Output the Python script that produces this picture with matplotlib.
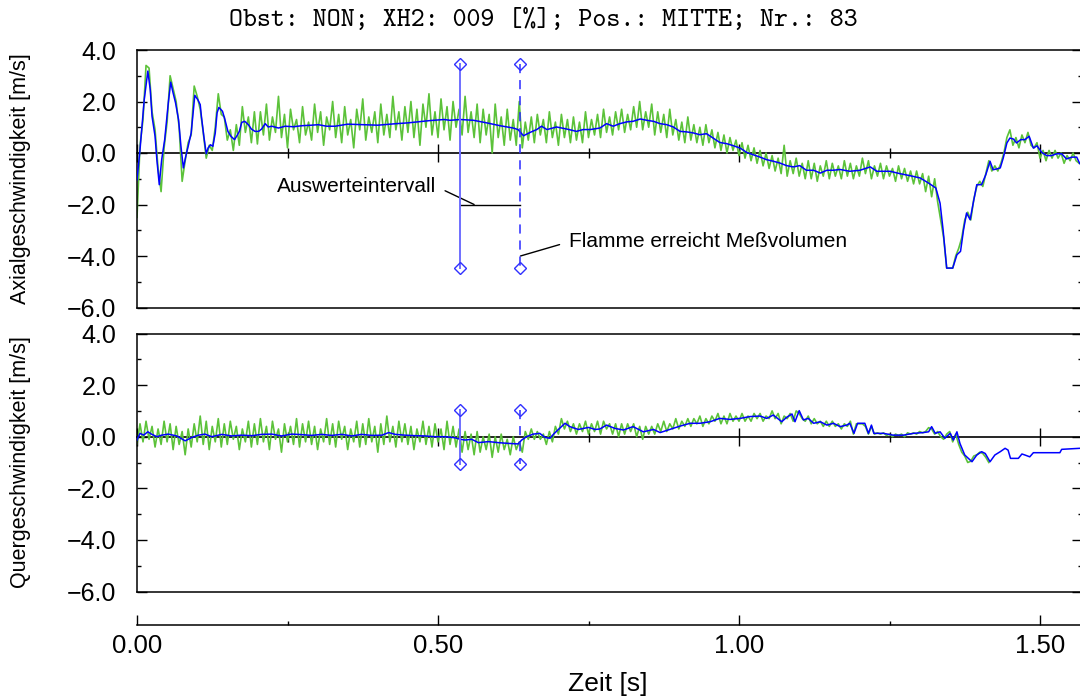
import numpy as np
import matplotlib
matplotlib.use("Agg")
import matplotlib.pyplot as plt
from matplotlib.ticker import MultipleLocator, FuncFormatter

plt.rcParams['font.family'] = ['Liberation Sans', 'DejaVu Sans']

# --- data ------------------------------------------------------------------
title = "Obst: NON; XH2: 009 [%]; Pos.: MITTE; Nr.: 83"

# smoothed axial velocity (blue)
axial_t = [0.000, 0.005, 0.012, 0.018, 0.022, 0.025, 0.030, 0.033, 0.037, 0.041,
           0.046, 0.052, 0.056, 0.060, 0.064, 0.069, 0.073, 0.077, 0.081, 0.085,
           0.090, 0.094, 0.096, 0.101, 0.105, 0.107, 0.111, 0.115, 0.118, 0.122,
           0.126, 0.130, 0.133, 0.136, 0.142, 0.146, 0.151, 0.156, 0.162, 0.166,
           0.170, 0.174, 0.179, 0.185, 0.190, 0.196, 0.202, 0.207, 0.213, 0.218,
           0.224, 0.235, 0.246, 0.260, 0.274, 0.290, 0.301, 0.315, 0.329, 0.350,
           0.376, 0.400, 0.431, 0.450, 0.470, 0.487, 0.510, 0.520, 0.537, 0.559,
           0.581, 0.603, 0.625, 0.633, 0.642, 0.653, 0.664, 0.672, 0.681, 0.697,
           0.714, 0.730, 0.741, 0.753, 0.769, 0.780, 0.791, 0.802, 0.814, 0.824,
           0.836, 0.847, 0.858, 0.869, 0.880, 0.891, 0.902, 0.913, 0.924, 0.935,
           0.946, 0.957, 0.968, 0.980, 0.991, 1.002, 1.013, 1.024, 1.035, 1.046,
           1.057, 1.068, 1.079, 1.090, 1.101, 1.112, 1.124, 1.135, 1.146, 1.157,
           1.168, 1.184, 1.201, 1.218, 1.229, 1.251, 1.267, 1.284, 1.301, 1.315,
           1.327, 1.334, 1.339, 1.345, 1.355, 1.362, 1.368, 1.373, 1.378, 1.384,
           1.389, 1.395, 1.403, 1.410, 1.417, 1.422, 1.428, 1.434, 1.439, 1.445,
           1.450, 1.456, 1.461, 1.468, 1.475, 1.482, 1.489, 1.495, 1.503, 1.511,
           1.519, 1.528, 1.536, 1.544, 1.553, 1.561, 1.566]
axial_v = [-1.04, 0.13, 2.07, 3.18, 2.46, 1.42, 0.65, -0.26, -1.23, -0.26,
           0.52, 1.95, 2.75, 2.33, 1.95, 1.30, 0.26, -0.58, -0.13, 0.26,
           0.78, 1.75, 2.24, 2.07, 1.88, 1.42, 0.65, -0.03, 0.19, 0.32,
           0.26, 0.78, 1.56, 1.77, 1.62, 1.30, 0.84, 0.65, 0.52, 0.67,
           0.84, 1.19, 1.23, 1.10, 0.93, 0.84, 0.84, 0.93, 1.14, 1.01,
           1.04, 0.97, 1.04, 1.02, 1.06, 1.08, 1.10, 1.04, 1.04, 1.12,
           1.10, 1.08, 1.14, 1.17, 1.22, 1.26, 1.30, 1.27, 1.30, 1.27,
           1.17, 1.06, 0.97, 0.91, 0.67, 0.80, 0.91, 1.04, 0.91, 1.01,
           0.93, 0.84, 0.91, 0.91, 0.97, 1.14, 1.04, 1.14, 1.21, 1.23,
           1.32, 1.27, 1.23, 1.14, 1.10, 1.01, 0.84, 0.82, 0.78, 0.71,
           0.75, 0.58, 0.41, 0.36, 0.28, 0.19, 0.02, -0.07, -0.16, -0.26,
           -0.32, -0.39, -0.49, -0.54, -0.49, -0.67, -0.67, -0.78, -0.67, -0.67,
           -0.64, -0.71, -0.67, -0.54, -0.71, -0.71, -0.80, -0.88, -0.97, -1.17,
           -1.36, -1.95, -2.98, -4.47, -4.47, -3.95, -3.82, -2.98, -2.33, -2.59,
           -1.95, -1.23, -1.23, -0.84, -0.32, -0.65, -0.62, -0.58, -0.19, 0.39,
           0.58, 0.54, 0.39, 0.52, 0.52, 0.65, 0.19, 0.28, 0.02, -0.10,
           -0.10, -0.03, -0.03, -0.23, -0.16, -0.16, -0.41]

# raw axial velocity (green), one sample every 5 ms from t = 0
axial_raw_dt = 0.005
axial_raw = [-2.5, 0.3, 1.3, 3.4, 3.3, 1.6, 0.9, -0.6, -1.5, 0.2,
             1.2, 3.0, 2.5, 2.0, 1.0, -1.1, -0.3, 0.4, 0.7, 2.6,
             2.2, 1.7, 0.8, -0.2, 0.3, 0.1, 1.0, 2.3, 1.5, 1.4,
             0.5, 0.9, 0.1, 1.1, 0.3, 1.8, 0.8, 1.4, 0.4, 1.6,
             0.35, 1.6, 0.7, 1.9, 0.5, 1.4, 0.8, 2.2, 0.6, 1.5,
             0.2, 1.7, 0.9, 1.3, 0.4, 1.8, 0.7, 1.2, 0.5, 1.9,
             0.8, 1.6, 0.3, 1.4, 0.9, 2.0, 0.6, 1.5, 0.4, 1.8,
             0.7, 1.3, 0.2, 1.7, 0.9, 2.1, 0.5, 1.4, 0.8, 1.6,
             0.4, 1.9, 0.7, 1.5, 0.6, 2.2, 0.9, 1.6, 0.5, 1.8,
             0.8, 2.0, 0.6, 1.7, 0.3, 1.9, 1.0, 2.3, 0.7, 1.6,
             0.6, 2.1, 0.9, 1.8, 0.5, 2.0, 1.0, 1.7, 0.7, 2.2,
             0.8, 1.6, 0.6, 1.9, 0.4, 1.7, 0.7, 1.5, 0.0, 1.9,
             0.6, 1.4, 0.3, 1.7, 0.5, 1.3, 0.3, 2.0, 0.2, 1.2,
             0.5, 1.4, 0.4, 1.5, 0.7, 1.3, 0.4, 1.6, 0.6, 1.2,
             0.3, 1.5, 0.6, 1.3, 0.4, 1.4, 0.5, 1.2, 0.4, 1.6,
             0.6, 1.3, 0.7, 1.5, 0.6, 1.7, 0.8, 1.4, 0.7, 1.6,
             0.9, 1.7, 0.8, 1.5, 0.9, 1.8, 1.0, 2.0, 0.9, 1.6,
             1.0, 1.9, 0.7, 1.6, 0.8, 1.5, 0.6, 1.7, 0.7, 1.3,
             0.5, 1.2, 0.4, 1.4, 0.5, 1.1, 0.4, 1.0, 0.3, 1.1,
             0.4, 0.9, 0.2, 0.8, 0.1, 0.7, 0.0, 0.6, 0.1, 0.5,
             -0.1, 0.4, -0.2, 0.3, -0.3, 0.2, -0.4, 0.1, -0.5, 0.0,
             -0.6, -0.1, -0.7, -0.2, -0.8, 0.3, -0.9, -0.3, -0.8, -0.2,
             -0.9, -0.4, -1.0, -0.3, -1.0, -0.4, -1.1, -0.5, -0.9, -0.3,
             -1.0, -0.4, -0.9, -0.5, -1.0, -0.3, -0.9, -0.4, -1.0, -0.5,
             -0.9, -0.2, -0.8, -0.3, -1.0, -0.5, -0.9, -0.4, -1.0, -0.5,
             -0.9, -0.6, -1.1, -0.5, -1.0, -0.6, -1.1, -0.7, -1.2, -0.7,
             -1.2, -0.8, -1.5, -0.9, -1.7, -1.0, -1.9, -2.6, -3.3, -4.47,
             -4.47, -4.47, -4.0, -3.7, -3.3, -2.6, -2.3, -2.6, -1.8, -1.3,
             -1.1, -1.3, -0.8, -0.3, -0.7, -0.5, -0.7, -0.4, 0.0, 0.6,
             0.9, 0.3, 0.6, 0.2, 0.7, 0.4, 0.8, 0.3, 0.2, 0.4,
             -0.2, 0.1, -0.3, 0.1, -0.2, 0.1, -0.2, 0.0, -0.4, -0.1,
             -0.3, 0.0, -0.3, -0.4]

# smoothed transverse velocity (blue)
quer_t = [0.000, 0.005, 0.011, 0.018, 0.024, 0.033, 0.041, 0.052, 0.066, 0.080,
          0.091, 0.102, 0.113, 0.124, 0.141, 0.157, 0.174, 0.191, 0.207, 0.224,
          0.240, 0.257, 0.274, 0.290, 0.307, 0.323, 0.340, 0.357, 0.373, 0.390,
          0.407, 0.418, 0.429, 0.445, 0.462, 0.478, 0.495, 0.512, 0.528, 0.537,
          0.545, 0.556, 0.567, 0.584, 0.600, 0.617, 0.633, 0.639, 0.647, 0.658,
          0.669, 0.678, 0.686, 0.692, 0.700, 0.711, 0.719, 0.733, 0.750, 0.761,
          0.769, 0.780, 0.794, 0.808, 0.824, 0.841, 0.858, 0.869, 0.885, 0.902,
          0.919, 0.935, 0.952, 0.968, 0.985, 1.002, 1.018, 1.035, 1.046, 1.057,
          1.071, 1.079, 1.088, 1.093, 1.100, 1.107, 1.115, 1.124, 1.135, 1.146,
          1.157, 1.168, 1.179, 1.184, 1.191, 1.197, 1.209, 1.215, 1.220, 1.224,
          1.240, 1.256, 1.273, 1.290, 1.306, 1.315, 1.320, 1.326, 1.334, 1.342,
          1.351, 1.356, 1.362, 1.367, 1.375, 1.387, 1.395, 1.403, 1.409, 1.417,
          1.425, 1.434, 1.442, 1.447, 1.451, 1.464, 1.470, 1.475, 1.483, 1.489,
          1.533, 1.536, 1.566]
quer_v = [-0.13, 0.13, 0.06, 0.19, 0.10, 0.00, 0.06, 0.10, 0.03, -0.16,
          -0.03, 0.06, 0.10, 0.00, 0.09, 0.03, 0.06, 0.04, 0.09, 0.10,
          0.03, 0.10, 0.08, 0.05, 0.09, 0.05, 0.09, 0.03, 0.09, 0.05,
          0.06, 0.16, 0.09, 0.06, 0.04, 0.03, 0.00, 0.00, -0.04, -0.10,
          -0.13, -0.10, -0.23, -0.19, -0.23, -0.26, -0.28, -0.13, 0.00, 0.10,
          0.13, -0.03, -0.06, 0.10, 0.28, 0.52, 0.39, 0.28, 0.36, 0.28,
          0.30, 0.45, 0.32, 0.26, 0.39, 0.19, 0.28, 0.16, 0.28, 0.41,
          0.52, 0.52, 0.58, 0.71, 0.67, 0.71, 0.78, 0.80, 0.71, 0.84,
          0.58, 0.75, 0.88, 0.58, 1.01, 0.65, 0.71, 0.52, 0.58, 0.45,
          0.52, 0.39, 0.45, 0.52, 0.13, 0.52, 0.52, 0.13, 0.45, 0.13,
          0.13, 0.06, 0.06, 0.13, 0.16, 0.19, 0.39, 0.13, 0.19, -0.06,
          0.13, -0.13, 0.19, -0.26, -0.71, -0.97, -0.71, -0.58, -0.65, -0.97,
          -0.71, -0.58, -0.45, -0.52, -0.84, -0.84, -0.67, -0.71, -0.78, -0.62,
          -0.62, -0.49, -0.45]

# raw transverse velocity (green), one sample every 5 ms from t = 0
quer_raw_dt = 0.005
quer_raw = [-0.3, 0.5, -0.2, 0.6, -0.1, 0.4, -0.4, 0.3, -0.3, 0.6,
            -0.2, 0.5, -0.5, 0.4, -0.3, 0.2, -0.7, 0.3, -0.4, 0.5,
            -0.2, 0.8, -0.3, 0.6, -0.5, 0.4, -0.2, 0.7, -0.4, 0.5,
            -0.3, 0.6, -0.1, 0.4, -0.5, 0.3, -0.2, 0.6, -0.4, 0.5,
            -0.3, 0.7, -0.2, 0.4, -0.5, 0.6, -0.1, 0.3, -0.6, 0.5,
            -0.2, 0.4, -0.3, 0.7, -0.4, 0.5, -0.2, 0.6, -0.3, 0.4,
            -0.5, 0.3, -0.2, 0.7, -0.3, 0.5, -0.4, 0.6, -0.1, 0.4,
            -0.5, 0.3, -0.2, 0.6, -0.4, 0.5, -0.3, 0.7, -0.2, 0.4,
            -0.6, 0.5, -0.3, 0.8, -0.2, 0.4, -0.4, 0.6, -0.2, 0.5,
            -0.3, 0.4, -0.5, 0.3, -0.2, 0.6, -0.3, 0.4, -0.4, 0.5,
            -0.2, 0.3, -0.5, 0.6, -0.3, 0.4, -0.4, 0.3, -0.6, 0.2,
            -0.5, 0.1, -0.7, 0.2, -0.6, 0.0, -0.5, 0.1, -0.8, 0.0,
            -0.6, 0.1, -0.5, -0.1, -0.7, 0.0, -0.5, -0.2, -0.6, 0.2,
            -0.1, 0.3, -0.1, 0.2, -0.1, 0.1, -0.3, 0.2, -0.2, 0.4,
            0.1, 0.7, 0.3, 0.6, 0.2, 0.5, 0.1, 0.5, 0.2, 0.6,
            0.1, 0.5, 0.2, 0.6, 0.1, 0.6, 0.3, 0.5, 0.1, 0.5,
            0.0, 0.5, 0.1, 0.5, 0.2, 0.5, 0.0, 0.4, -0.1, 0.4,
            0.1, 0.4, 0.1, 0.5, 0.2, 0.6, 0.2, 0.5, 0.3, 0.7,
            0.3, 0.6, 0.4, 0.7, 0.4, 0.7, 0.5, 0.8, 0.4, 0.7,
            0.5, 0.8, 0.6, 0.9, 0.5, 0.8, 0.5, 0.9, 0.6, 0.8,
            0.6, 0.9, 0.6, 0.8, 0.6, 0.9, 0.7, 0.9, 0.6, 0.8,
            0.7, 1.0, 0.7, 0.9, 0.5, 0.8, 0.7, 0.9, 0.6, 1.0,
            0.9, 0.7, 0.6, 0.8, 0.5, 0.7, 0.5, 0.6, 0.4, 0.6,
            0.4, 0.6, 0.4, 0.5, 0.3, 0.5, 0.4, 0.6, 0.1, 0.5,
            0.5, 0.5, 0.4, 0.1, 0.4, 0.1, 0.15, 0.1, 0.15, 0.05,
            0.1, 0.0, 0.1, 0.05, 0.1, 0.0, 0.15, 0.1, 0.15, 0.1,
            0.2, 0.15, 0.2, 0.35, 0.3, 0.1, 0.2, 0.0, -0.1, 0.1,
            0.2, -0.2, 0.1, -0.3, -0.6, -0.75, -1.0, -0.95, -0.75, -0.7,
            -0.6, -0.65, -0.8, -1.0]

# evaluation interval (start, flame arrival) and marker heights
interval_t = [0.537, 0.637]
marker_axial = [3.45, -4.45]
marker_quer = [1.05, -1.05]

# --- layout -----------------------------------------------------------------
W, H = 1080, 697
fig = plt.figure(figsize=(W / 100, H / 100), dpi=100)


def box(l, t, r, b):
    return [l / W, 1 - b / H, (r - l) / W, (b - t) / H]


GREEN = '#5cc23a'
BLUE = '#0000ff'
XMAX = (1082 - 137) / 602.0

ax1 = fig.add_axes(box(137, 50, 1082, 307.5))
ax2 = fig.add_axes(box(137, 333.5, 1082, 591.5))
axx = fig.add_axes(box(137, 624, 1082, 624.5))

yfmt = FuncFormatter(lambda v, p: f"{v:.1f}".replace("-", "\u2212"))

for ax, raw, dt, st, sv, mk in [(ax1, axial_raw, axial_raw_dt, axial_t, axial_v, marker_axial),
                                (ax2, quer_raw, quer_raw_dt, quer_t, quer_v, marker_quer)]:
    raw_t = np.arange(len(raw)) * dt
    ax.plot(raw_t, raw, color=GREEN, lw=1.2, zorder=2)
    ax.plot(st, sv, color=BLUE, lw=1.1, zorder=3)
    ax.plot([interval_t[0]] * 2, mk, color='#6f6fff', lw=1.4, marker='D', ms=6,
            mfc='none', mec='#3030ff', mew=1.0, zorder=4)
    ax.plot([interval_t[1]] * 2, mk, color='#2a2aff', lw=1.1, ls=(0, (6, 4.5)),
            marker='D', ms=6, mfc='none', mec='#3030ff', mew=1.0, zorder=4)

    ax.set_xlim(0, XMAX)
    ax.set_ylim(-6, 4)
    ax.yaxis.set_major_locator(MultipleLocator(2))
    ax.yaxis.set_minor_locator(MultipleLocator(1))
    ax.yaxis.set_major_formatter(yfmt)
    ax.tick_params(axis='y', which='both', direction='in', left=True, right=True,
                   width=1.0, labelsize=18, pad=15)
    ax.tick_params(axis='y', which='major', length=7)
    ax.tick_params(axis='y', which='minor', length=3)
    ax.tick_params(axis='x', which='both', bottom=False, top=False,
                   labelbottom=False)
    for s in ax.spines.values():
        s.set_linewidth(1.1)

    # zero line carrying the time ticks
    zero = ax.secondary_xaxis(0.6)
    zero.xaxis.set_major_locator(MultipleLocator(0.5))
    zero.xaxis.set_minor_locator(MultipleLocator(0.25))
    zero.tick_params(which='both', direction='inout', width=1.0,
                     labelbottom=False, labeltop=False)
    zero.tick_params(which='major', length=13)
    zero.tick_params(which='minor', length=7)
    for s in zero.spines.values():
        s.set_linewidth(1.2)

# annotations
ax1.plot(interval_t, [-2.0, -2.0], color='black', lw=1.0, zorder=3)
ax1.annotate("Auswerteintervall", xy=(0.560, -2.0), xytext=(0.4967, -1.3),
             ha='right', va='center', fontsize=15,
             arrowprops=dict(arrowstyle='-', color='black', lw=1.0,
                             relpos=(1, 0.5), shrinkA=5, shrinkB=0))
ax1.annotate("Flamme erreicht Meßvolumen", xy=(interval_t[1], -4.0),
             xytext=(0.7176, -3.45), ha='left', va='center', fontsize=15,
             arrowprops=dict(arrowstyle='-', color='black', lw=1.0,
                             relpos=(0, 0.5), shrinkA=5, shrinkB=0))

# separate time axis below
axx.set_xlim(0, XMAX)
axx.set_ylim(0, 1)
axx.patch.set_visible(False)
for side in ['left', 'right', 'top']:
    axx.spines[side].set_visible(False)
axx.spines['bottom'].set_linewidth(1.1)
axx.set_yticks([])
axx.xaxis.set_major_locator(MultipleLocator(0.5))
axx.xaxis.set_minor_locator(MultipleLocator(0.25))
axx.xaxis.set_major_formatter(FuncFormatter(lambda v, p: f"{v:.2f}"))
axx.tick_params(axis='x', which='both', direction='in', width=1.0,
                labelsize=18.5, pad=7)
axx.tick_params(axis='x', which='major', length=7)
axx.tick_params(axis='x', which='minor', length=3)

fig.text(608 / W, 1 - 684 / H, "Zeit [s]", ha='center', va='center', fontsize=19)
fig.text(21 / W, 1 - 179 / H, "Axialgeschwindigkeit [m/s]", rotation=90,
         ha='center', va='center', fontsize=15.5)
fig.text(21 / W, 1 - 462 / H, "Quergeschwindigkeit [m/s]", rotation=90,
         ha='center', va='center', fontsize=15.5)
fig.text(543 / W, 1 - 21 / H, title, ha='center', va='center',
         family='cmtt10', fontsize=19.2)

fig.savefig("out.png", dpi=100)
